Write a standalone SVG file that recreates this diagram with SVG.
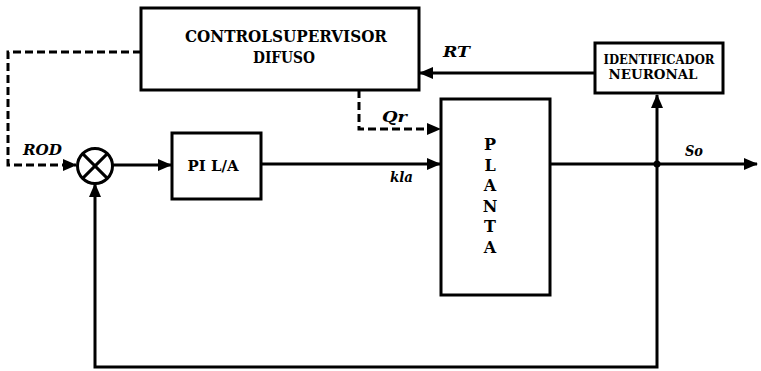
<svg xmlns="http://www.w3.org/2000/svg" width="761" height="371" viewBox="0 0 761 371">
<style>
.box{fill:#fff;stroke:#000;stroke-width:3}
.ln{fill:none;stroke:#000;stroke-width:3}
.dash{fill:none;stroke:#000;stroke-width:3;stroke-dasharray:8 4}
.t{font-family:"DejaVu Serif",serif;font-weight:bold;fill:#000;text-anchor:middle}
.lb{font-family:"DejaVu Serif",serif;font-weight:bold;font-style:italic;fill:#000;font-size:15px}
</style>
<defs>
<marker id="ah" markerUnits="userSpaceOnUse" markerWidth="14" markerHeight="12" refX="13" refY="6" orient="auto">
<path d="M0,0 L14,6 L0,12 Z" fill="#000"/>
</marker>
</defs>
<rect width="761" height="371" fill="#fff"/>
<g id="connectors">
<polyline class="dash" points="141,52 8,52 8,165 76,165" marker-end="url(#ah)"/>
<line class="ln" x1="112" y1="165" x2="171" y2="165" marker-end="url(#ah)"/>
<line class="ln" x1="261" y1="164" x2="440" y2="164" marker-end="url(#ah)"/>
<polyline class="dash" points="359,90 359,129 440,129" marker-end="url(#ah)"/>
<line class="ln" x1="550" y1="164" x2="757" y2="164" marker-end="url(#ah)"/>
<line class="ln" x1="657" y1="164" x2="657" y2="95" marker-end="url(#ah)"/>
<line class="ln" x1="595" y1="73" x2="420" y2="73" marker-end="url(#ah)"/>
<polyline class="ln" points="657,164 657,367 95,367 95,184" marker-end="url(#ah)"/>
<circle cx="657" cy="164" r="3.5" fill="#000"/>
<text class="lb" x="443" y="57" textLength="27" lengthAdjust="spacingAndGlyphs">RT</text>
<text class="lb" x="382" y="122" textLength="25" lengthAdjust="spacingAndGlyphs">Qr</text>
<text class="lb" x="390" y="182" textLength="23" lengthAdjust="spacingAndGlyphs">kla</text>
<text class="lb" x="685" y="156" textLength="18" lengthAdjust="spacingAndGlyphs">So</text>
<text class="lb" x="23" y="155" textLength="39" lengthAdjust="spacingAndGlyphs">ROD</text>
</g>
<g id="supervisor">
<rect class="box" x="141" y="8" width="278" height="82"/>
<text class="t" x="286" y="42" font-size="16" textLength="202" lengthAdjust="spacingAndGlyphs">CONTROLSUPERVISOR</text>
<text class="t" x="284" y="63" font-size="16" textLength="62" lengthAdjust="spacingAndGlyphs">DIFUSO</text>
</g>
<g id="identificador">
<rect class="box" x="595" y="43" width="128" height="50"/>
<text class="t" x="659" y="64" font-size="12" textLength="111" lengthAdjust="spacingAndGlyphs">IDENTIFICADOR</text>
<text class="t" x="653" y="79" font-size="12" textLength="89" lengthAdjust="spacingAndGlyphs">NEURONAL</text>
</g>
<g id="sum">
<circle cx="95" cy="166" r="17.5" fill="#fff" stroke="#000" stroke-width="3"/>
<line class="ln" x1="82.6" y1="153.6" x2="107.4" y2="178.4"/>
<line class="ln" x1="107.4" y1="153.6" x2="82.6" y2="178.4"/>
</g>
<g id="pi">
<rect class="box" x="172" y="133" width="89" height="66"/>
<text class="t" x="213" y="171" font-size="15" textLength="51" lengthAdjust="spacingAndGlyphs">PI L/A</text>
</g>
<g id="planta">
<rect class="box" x="441" y="99" width="109" height="196"/>
<text class="t" x="490" y="150" font-size="16">P</text>
<text class="t" x="490" y="171" font-size="16">L</text>
<text class="t" x="490" y="191" font-size="16">A</text>
<text class="t" x="490" y="212" font-size="16">N</text>
<text class="t" x="490" y="232" font-size="16">T</text>
<text class="t" x="490" y="253" font-size="16">A</text>
</g>
</svg>
